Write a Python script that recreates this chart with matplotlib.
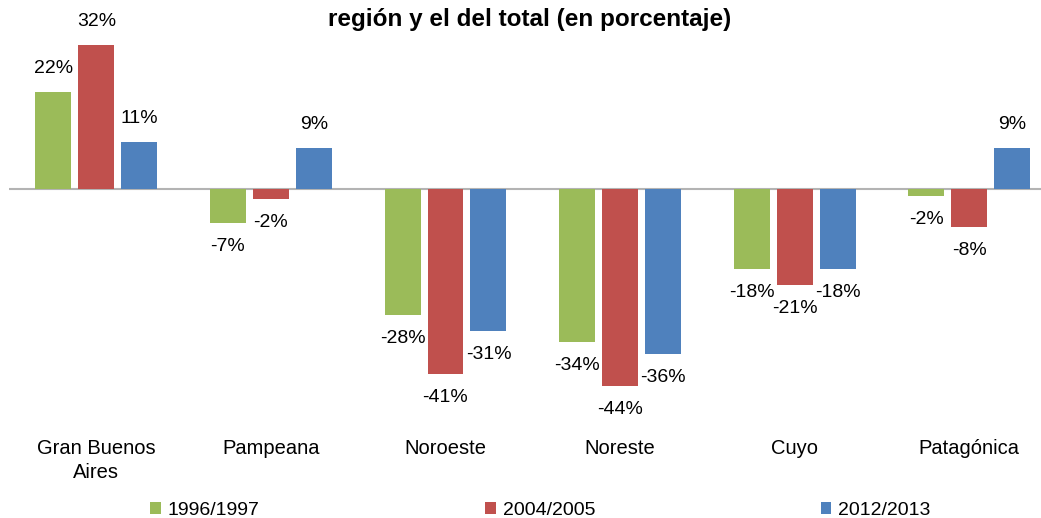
import matplotlib.pyplot as plt
import numpy as np

plt.rcParams['font.family'] = ['Liberation Sans', 'DejaVu Sans']

# regions and values (percent)
regions = ["Gran Buenos\nAires", "Pampeana", "Noroeste", "Noreste", "Cuyo", "Patagónica"]
series = ["1996/1997", "2004/2005", "2012/2013"]
v1996 = [21.6, -7.5, -28.0, -34.0, -17.8, -1.6]
v2004 = [32.0, -2.2, -41.1, -43.8, -21.3, -8.4]
v2012 = [10.4, 9.1, -31.6, -36.7, -17.8, 9.1]
lab1996 = ["22%", "-7%", "-28%", "-34%", "-18%", "-2%"]
lab2004 = ["32%", "-2%", "-41%", "-44%", "-21%", "-8%"]
lab2012 = ["11%", "9%", "-31%", "-36%", "-18%", "9%"]

colors = ["#9BBB59", "#C0504D", "#4F81BD"]

fig = plt.figure(figsize=(10.41, 5.18), dpi=100)
# axes placed in pixels: left 9, right 1041, top 40, bottom 432
ax = fig.add_axes([9 / 1041, 1 - 432 / 518, 1 - 9 / 1041, (432 - 40) / 518])

x = np.arange(len(regions))
width = 0.206
step = 0.246
for i, (vals, labs, name) in enumerate(zip([v1996, v2004, v2012],
                                           [lab1996, lab2004, lab2012], series)):
    pos = x + (i - 1) * step
    ax.bar(pos, vals, width, color=colors[i], label=name)
    for px, v, t in zip(pos, vals, labs):
        off = 17 if v >= 0 else -17
        ax.annotate(t, (px, v), xytext=(0, off), textcoords="offset points",
                    ha="center", va="center", fontsize=14)

ax.axhline(0, color="#b3b3b3", lw=1.5, zorder=0)
ax.set_xlim(-0.5, -0.5 + 1032 / 174.6)
ax.set_ylim(-(432 - 189) / 4.5, (189 - 40) / 4.5)
ax.set_xticks(x)
ax.set_xticklabels(regions, fontsize=14.5, va="top", linespacing=1.35)
ax.tick_params(axis="x", length=0, pad=5)
ax.set_yticks([])
for s in ax.spines.values():
    s.set_visible(False)

fig.text(0.509, 0.963, "región y el del total (en porcentaje)", ha="center", va="center",
         fontsize=17.5, fontweight="bold")

fig.legend(loc="lower center", bbox_to_anchor=(0.519, -0.035), ncol=3, frameon=False,
           fontsize=14, handlelength=0.55, handleheight=0.55, handletextpad=0.35,
           columnspacing=11.6)

fig.savefig("out.png", dpi=100)
